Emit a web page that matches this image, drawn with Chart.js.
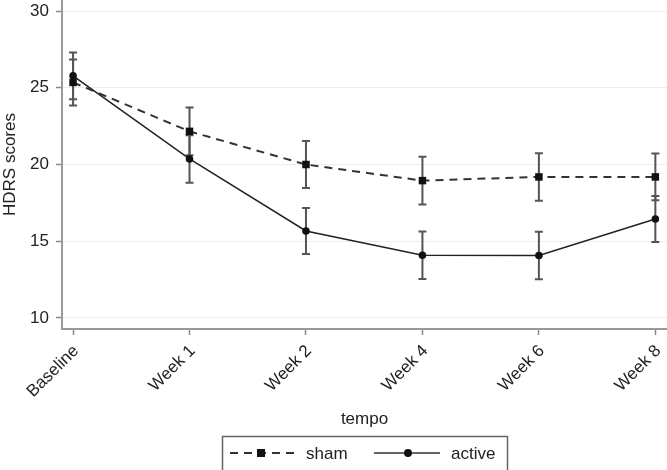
<!DOCTYPE html>
<html><head><meta charset="utf-8">
<script src="https://cdn.jsdelivr.net/npm/chart.js@4/dist/chart.umd.min.js"></script>
<style>html,body{margin:0;padding:0;background:#fff}#wrap{width:667px;height:470px}</style>
</head><body><div id="wrap"><canvas id="c" width="667" height="470"></canvas></div>
<script>
const categories = ['Baseline', 'Week 1', 'Week 2', 'Week 4', 'Week 6', 'Week 8'];
const shamMean = [25.35, 22.16, 20.0, 18.95, 19.19, 19.19];
const shamErr = [1.5, 1.55, 1.53, 1.55, 1.55, 1.52];
const activeMean = [25.78, 20.36, 15.67, 14.09, 14.07, 16.45];
const activeErr = [1.52, 1.55, 1.5, 1.55, 1.55, 1.5];
const yTicks = [10, 15, 20, 25, 30];
const seriesNames = ['sham', 'active'];
const errArrays = [shamErr, activeErr];

Chart.defaults.font.family = '"Liberation Sans", Arial, sans-serif';
Chart.defaults.color = '#222';

const errorBars = {
  id: 'errorBars',
  beforeDatasetsDraw(chart) {
    const ctx = chart.ctx, xs = chart.scales.x, ys = chart.scales.y;
    ctx.save();
    ctx.strokeStyle = '#555';
    ctx.lineWidth = 2;
    chart.data.datasets.forEach((ds, di) => {
      const errs = errArrays[di];
      ds.data.forEach((p, i) => {
        const x = xs.getPixelForValue(p.x);
        const yt = ys.getPixelForValue(p.y + errs[i]);
        const yb = ys.getPixelForValue(p.y - errs[i]);
        ctx.beginPath();
        ctx.moveTo(x, yt); ctx.lineTo(x, yb);
        ctx.moveTo(x - 4, yt); ctx.lineTo(x + 4, yt);
        ctx.moveTo(x - 4, yb); ctx.lineTo(x + 4, yb);
        ctx.stroke();
      });
    });
    ctx.restore();
  }
};

const customLegend = {
  id: 'customLegend',
  afterDraw(chart) {
    const ctx = chart.ctx;
    ctx.save();
    ctx.strokeStyle = '#666';
    ctx.lineWidth = 1.5;
    ctx.strokeRect(222.5, 436.5, 285, 40);
    const ly = 453;
    ctx.strokeStyle = '#333';
    ctx.lineWidth = 2;
    ctx.setLineDash([8, 6]);
    ctx.beginPath(); ctx.moveTo(230, ly); ctx.lineTo(298, ly); ctx.stroke();
    ctx.setLineDash([]);
    ctx.fillStyle = '#111';
    ctx.fillRect(261 - 4, ly - 4, 8, 8);
    ctx.lineWidth = 1.5;
    ctx.beginPath(); ctx.moveTo(374, ly); ctx.lineTo(440, ly); ctx.stroke();
    ctx.beginPath(); ctx.arc(408, ly, 4, 0, Math.PI * 2); ctx.fill();
    ctx.fillStyle = '#222';
    ctx.font = '17px "Liberation Sans", Arial, sans-serif';
    ctx.textBaseline = 'middle';
    ctx.textAlign = 'left';
    ctx.fillText(seriesNames[0], 306, ly + 1);
    ctx.fillText(seriesNames[1], 451, ly + 1);
    ctx.restore();
  }
};

new Chart(document.getElementById('c'), {
  type: 'line',
  data: {
    datasets: [
      {
        label: seriesNames[0],
        data: categories.map((c, i) => ({x: i, y: shamMean[i]})),
        borderColor: '#333', borderWidth: 2, borderDash: [8, 6],
        pointStyle: 'rect', pointRadius: 5.3, pointBackgroundColor: '#111', pointBorderColor: '#111', pointBorderWidth: 0,
        tension: 0, fill: false, clip: false
      },
      {
        label: seriesNames[1],
        data: categories.map((c, i) => ({x: i, y: activeMean[i]})),
        borderColor: '#222', borderWidth: 1.5,
        pointStyle: 'circle', pointRadius: 3.8, pointBackgroundColor: '#111', pointBorderColor: '#111', pointBorderWidth: 0,
        tension: 0, fill: false, clip: false
      }
    ]
  },
  options: {
    responsive: false,
    animation: false,
    devicePixelRatio: 1,
    layout: {autoPadding: false, padding: {left: 0, right: 0, top: 0, bottom: 40}},
    plugins: {legend: {display: false}, tooltip: {enabled: false}},
    scales: {
      x: {
        type: 'linear', min: -0.095, max: 5.1,
        afterBuildTicks: s => { s.ticks = categories.map((c, i) => ({value: i})); },
        afterFit: s => { s.height = 101; s.paddingLeft = 0; s.paddingRight = 0; },
        ticks: {
          callback: v => categories[v],
          minRotation: 45, maxRotation: 45, autoSkip: false,
          font: {size: 17}, color: '#222', padding: 6, labelOffset: 3
        },
        grid: {drawOnChartArea: false, drawTicks: true, tickLength: 6, tickColor: '#888', tickWidth: 1.5},
        border: {display: true, color: '#999', width: 2},
        title: {display: true, text: 'tempo', font: {size: 17}, color: '#222', padding: {top: 2, bottom: 0}}
      },
      y: {
        type: 'linear', min: 9.28, max: 30.72,
        afterBuildTicks: s => { s.ticks = yTicks.map(v => ({value: v})); },
        afterFit: s => { s.width = 62; s.paddingTop = 0; s.paddingBottom = 0; },
        ticks: {font: {size: 17}, color: '#222', padding: 7},
        grid: {color: '#eeeeee', lineWidth: 1, drawTicks: true, tickLength: 6, tickColor: '#888', tickWidth: 1.5},
        border: {display: true, color: '#999', width: 2},
        title: {display: true, text: 'HDRS scores', font: {size: 17}, color: '#222', padding: {top: 0, bottom: 0}}
      }
    }
  },
  plugins: [errorBars, customLegend]
});
</script></body></html>
